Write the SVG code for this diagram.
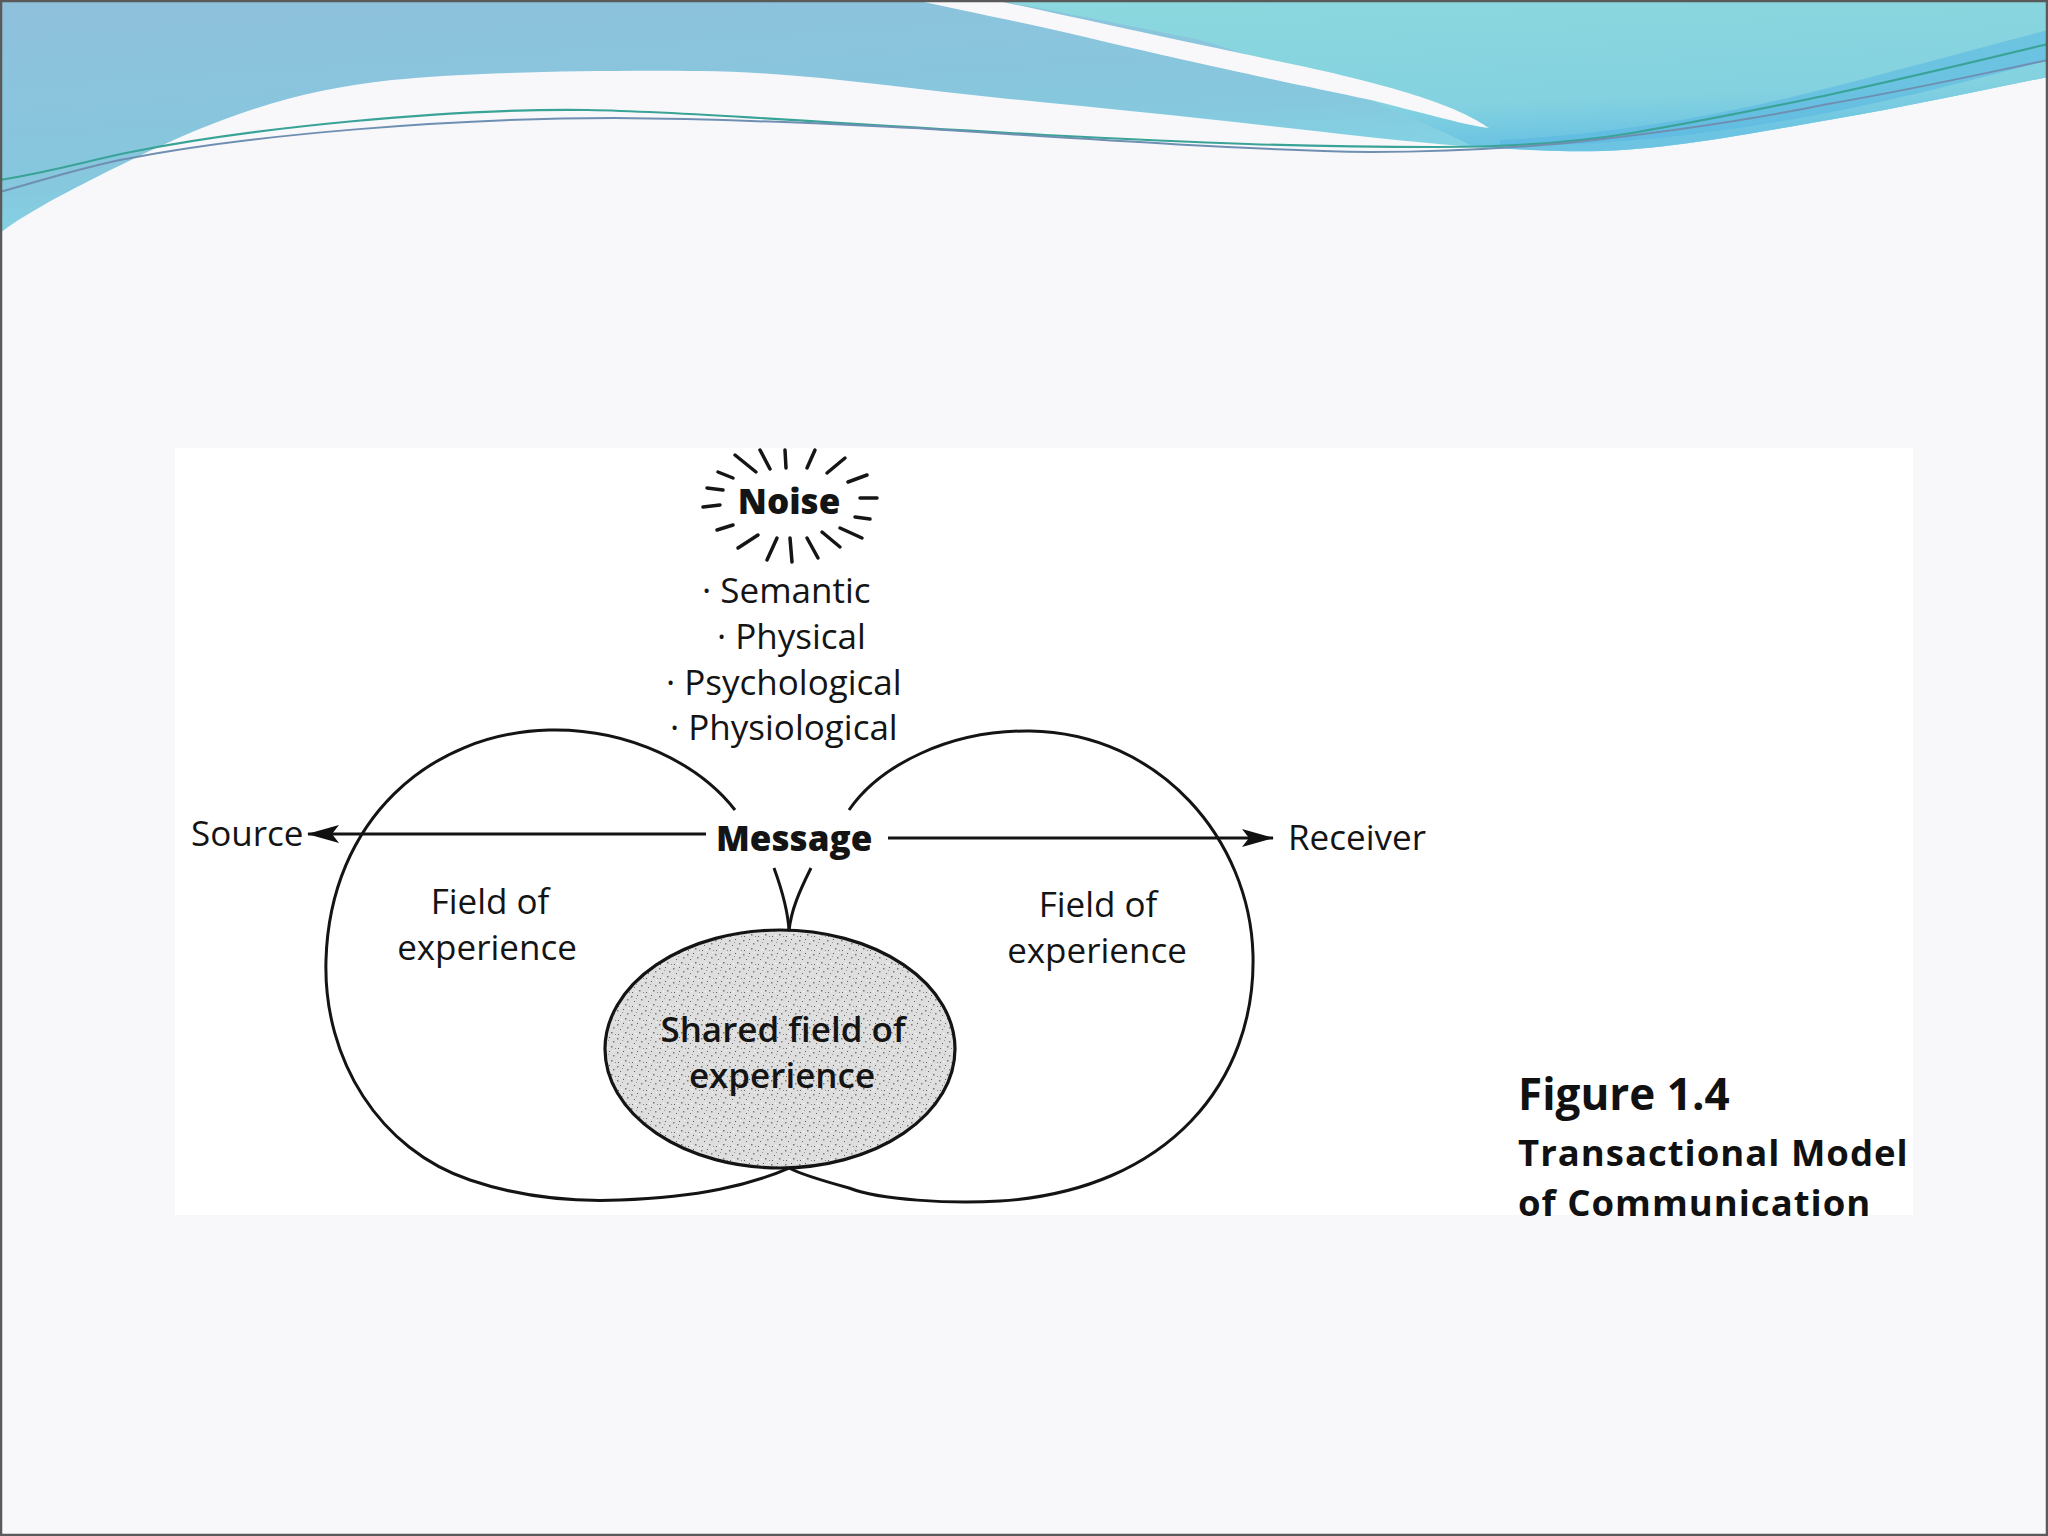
<svg xmlns="http://www.w3.org/2000/svg" width="2048" height="1536" viewBox="0 0 2048 1536">
  <defs>
    <linearGradient id="bandL" x1="0" y1="0" x2="0.6" y2="1">
      <stop offset="0" stop-color="#8fc0dc"/>
      <stop offset="0.6" stop-color="#86c8de"/>
      <stop offset="1" stop-color="#7ee2ea"/>
    </linearGradient>
    <linearGradient id="bandR" x1="0" y1="0" x2="0.3" y2="1">
      <stop offset="0" stop-color="#8cd8de"/>
      <stop offset="0.75" stop-color="#84d2e0"/>
      <stop offset="1" stop-color="#6cc4e2"/>
    </linearGradient>
    <pattern id="stipple" width="14" height="14" patternUnits="userSpaceOnUse">
      <rect width="14" height="14" fill="#dedede"/>
      <rect x="1" y="2" width="1.5" height="1.5" fill="#7a7a7a"/>
      <rect x="7" y="1" width="1" height="1" fill="#5a5a5a"/>
      <rect x="11" y="5" width="1.5" height="1.5" fill="#808080"/>
      <rect x="4" y="7" width="1" height="1" fill="#666"/>
      <rect x="9" y="10" width="1.5" height="1.5" fill="#757575"/>
      <rect x="2" y="12" width="1" height="1" fill="#5f5f5f"/>
      <rect x="13" y="12" width="1" height="1" fill="#888"/>
      <rect x="6" y="4" width="1" height="1" fill="#999"/>
      <rect x="12" y="0" width="1" height="1" fill="#f8f8f8"/>
      <rect x="5" y="11" width="1.5" height="1.5" fill="#f4f4f4"/>
    </pattern>
    <marker id="arrow" viewBox="0 0 32 20" refX="31" refY="10" markerWidth="32" markerHeight="20" markerUnits="userSpaceOnUse" orient="auto">
      <path d="M0,1 L32,10 L0,19 L7,10 Z" fill="#111"/>
    </marker>
    <style>
      .lbl { font-family: "Open Sans", "Liberation Sans", sans-serif; font-size: 35px; fill: #141414; }
      .bold { font-weight: 800; }
      .ray { stroke: #151515; stroke-width: 3.5; stroke-linecap: round; }
      .line { fill: none; stroke: #141414; stroke-width: 3; }
      .cap { font-family: "Open Sans", "Liberation Sans", sans-serif; font-weight: 700; fill: #111; }
    </style>
  </defs>

  <!-- slide background -->
  <rect x="0" y="0" width="2048" height="1536" fill="#f8f8fa"/>

  <!-- banner -->
  <g id="banner">
    <path d="M0,0 L2048,0 L2048,77 C1960,95 1880,112 1800,125 C1700,142 1640,153 1560,151 C1480,149 1420,143 1306,130 C1200,118 1100,108 1000,98 C900,88 800,72 700,71 C600,70 470,72 392,80 C300,90 230,112 131,160 C80,185 30,210 0,233 Z" fill="url(#bandL)"/>
    <path d="M993,0 L2048,0 L2048,77 C1960,95 1880,112 1800,125 C1700,142 1640,153 1560,151 C1520,150 1500,148 1470,145 C1400,110 1300,70 1200,40 C1100,20 1040,8 993,0 Z" fill="url(#bandR)"/>
    <path d="M1500,140 C1600,135 1700,120 1800,95 C1900,70 1990,45 2048,30 L2048,60 C1990,75 1900,100 1800,118 C1700,136 1600,146 1500,146 Z" fill="#58b6e2" opacity="0.55"/>
    <path d="M914,0 L993,0 C1060,14 1175,40 1306,67 C1410,90 1460,108 1489,128 C1460,124 1420,112 1371,100 C1300,85 1240,73 1110,43 C1040,26 970,12 914,0 Z" fill="#f8f8fa"/>
    <path d="M0,180 C60,170 90,160 131,152 C250,128 450,108 588,110 C700,112 800,122 1045,135 C1200,143 1300,147 1437,147 C1520,147 1590,140 1632,133 C1720,118 1780,105 1828,95 C1920,75 1990,58 2048,44" fill="none" stroke="#3aa398" stroke-width="2.2"/>
    <path d="M0,192 C50,178 90,165 131,158 C250,135 450,118 614,118 C750,119 850,125 914,128 C1100,140 1250,150 1371,152 C1450,152 1510,148 1567,143 C1660,133 1760,118 1828,104 C1920,88 1990,72 2048,60" fill="none" stroke="#6f8fb2" stroke-width="2"/>
  </g>

  <!-- scanned figure area -->
  <rect x="175" y="448" width="1738" height="767" fill="#ffffff"/>

  <g id="noise">
    <text class="lbl bold" x="789" y="514" font-size="38" text-anchor="middle">Noise</text>
    <g class="rays">
      <line class="ray" x1="735" y1="455" x2="756" y2="472"/>
      <line class="ray" x1="760" y1="450" x2="770" y2="469"/>
      <line class="ray" x1="785" y1="450" x2="786" y2="468"/>
      <line class="ray" x1="815" y1="450" x2="807" y2="468"/>
      <line class="ray" x1="845" y1="458" x2="827" y2="473"/>
      <line class="ray" x1="867" y1="475" x2="848" y2="482"/>
      <line class="ray" x1="718" y1="472" x2="733" y2="478"/>
      <line class="ray" x1="707" y1="488" x2="723" y2="490"/>
      <line class="ray" x1="703" y1="507" x2="720" y2="505"/>
      <line class="ray" x1="717" y1="530" x2="733" y2="525"/>
      <line class="ray" x1="860" y1="498" x2="877" y2="498"/>
      <line class="ray" x1="855" y1="517" x2="870" y2="519"/>
      <line class="ray" x1="840" y1="528" x2="862" y2="538"/>
      <line class="ray" x1="738" y1="548" x2="758" y2="535"/>
      <line class="ray" x1="767" y1="560" x2="777" y2="538"/>
      <line class="ray" x1="792" y1="562" x2="790" y2="538"/>
      <line class="ray" x1="807" y1="538" x2="818" y2="558"/>
      <line class="ray" x1="822" y1="532" x2="840" y2="547"/>
    </g>
  </g>

  <g id="noise-types">
    <text class="lbl" x="702" y="603">· Semantic</text>
    <text class="lbl" x="717" y="649">· Physical</text>
    <text class="lbl" x="666" y="695">· Psychological</text>
    <text class="lbl" x="670" y="740">· Physiological</text>
  </g>

  <g id="field-left">
    <path class="line" d="M735,810 C700,765 630,728 549,730 C430,733 330,820 326,960 C323,1060 380,1150 470,1180 C520,1197 570,1202 620,1200 C700,1197 750,1185 789,1168"/>
    <text class="lbl" x="490" y="914" font-size="34" text-anchor="middle">Field of</text>
    <text class="lbl" x="487" y="960" font-size="34" text-anchor="middle">experience</text>
  </g>

  <g id="field-right">
    <path class="line" d="M849,810 C880,765 950,730 1030,731 C1160,733 1250,840 1253,955 C1256,1080 1170,1190 1000,1201 C950,1204 880,1200 849,1188 C820,1180 800,1174 789,1168"/>
    <text class="lbl" x="1098" y="917" font-size="34" text-anchor="middle">Field of</text>
    <text class="lbl" x="1097" y="963" font-size="34" text-anchor="middle">experience</text>
  </g>

  <g id="shared">
    <ellipse cx="780" cy="1049" rx="175" ry="119" fill="url(#stipple)" stroke="#141414" stroke-width="3.2"/>
    <text class="lbl" x="783" y="1042" font-size="34" text-anchor="middle" font-weight="600">Shared field of</text>
    <text class="lbl" x="782" y="1088" font-size="34" text-anchor="middle" font-weight="600">experience</text>
  </g>

  <g id="source">
    <text class="lbl" x="191" y="846" font-size="33">Source</text>
  </g>

  <g id="message">
    <text class="lbl bold" x="716" y="851" font-size="38">Message</text>
  </g>

  <g id="receiver">
    <text class="lbl" x="1288" y="850" font-size="33">Receiver</text>
  </g>

  <g id="connectors">
    <line class="line" x1="706" y1="834" x2="308" y2="834" marker-end="url(#arrow)"/>
    <line class="line" x1="888" y1="838" x2="1273" y2="838" marker-end="url(#arrow)"/>
    <path class="line" d="M774,868 C782,890 788,910 789,931"/>
    <path class="line" d="M811,868 C800,890 791,910 789,931"/>
  </g>

  <g id="caption">
    <text class="cap" x="1518" y="1110" font-size="44">Figure 1.4</text>
    <text class="cap" x="1518" y="1166" font-size="36.5" letter-spacing="1">Transactional Model</text>
    <text class="cap" x="1518" y="1216" font-size="36.5" letter-spacing="1">of Communication</text>
  </g>

  <rect x="1" y="1" width="2046" height="1534" fill="none" stroke="#5a5a5a" stroke-width="2.5"/>
</svg>
